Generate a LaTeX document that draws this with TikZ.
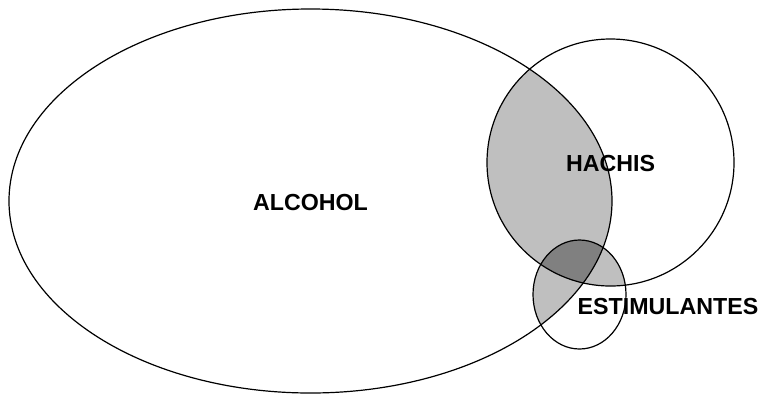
\documentclass[tikz,border=0pt]{standalone}
\usepackage{fontspec}
\setmainfont{Liberation Sans}
\begin{document}
\begin{tikzpicture}[x=1bp,y=-1bp,
  outline/.style={draw=black,line width=1.2bp},
  lightfill/.style={fill=black!25},
  darkfill/.style={fill=black!50},
  lbl/.style={font=\fontsize{23.3}{26}\selectfont\bfseries,inner sep=0pt}]
\useasboundingbox (0,0) rectangle (758,396);
\def\alcohol{(310.5,201) ellipse [x radius=301.5,y radius=192]}
\def\hachis{(610.5,162.5) circle [radius=123.5]}
\def\estim{(579.5,294.5) ellipse [x radius=46.5,y radius=54.5]}
\begin{scope}
  \clip \alcohol;
  \path[lightfill] \hachis;
  \path[lightfill] \estim;
\end{scope}
\begin{scope}
  \clip \hachis;
  \path[lightfill] \estim;
\end{scope}
\begin{scope}
  \clip \alcohol;
  \clip \hachis;
  \path[darkfill] \estim;
\end{scope}
\path[outline] \alcohol;
\path[outline] \hachis;
\path[outline] \estim;
\node[lbl] (alc) at (310.5,203) {ALCOHOL};
\node[lbl] (hach) at (610.5,164) {HACHIS};
\node[lbl] (est) at (668,306) {ESTIMULANTES};
\end{tikzpicture}
\end{document}
